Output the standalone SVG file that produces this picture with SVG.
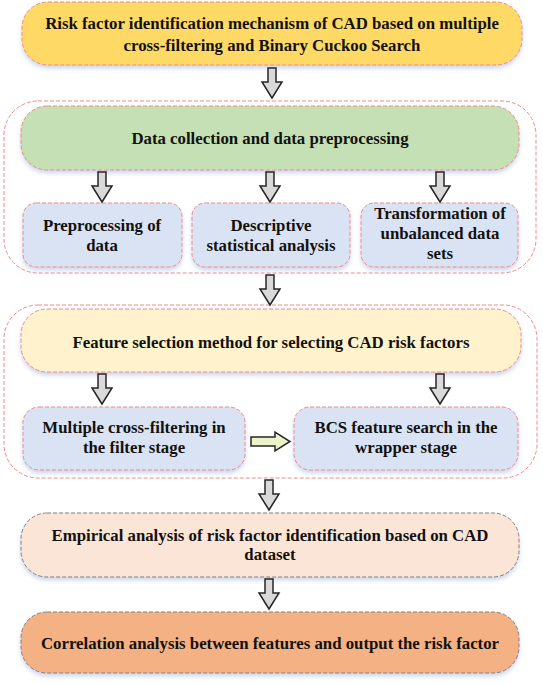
<svg xmlns="http://www.w3.org/2000/svg" width="543" height="685" viewBox="0 0 543 685">
<defs>
<filter id="sh" x="-10%" y="-20%" width="120%" height="150%">
<feDropShadow dx="0" dy="3" stdDeviation="2" flood-color="#8fa6d6" flood-opacity="0.45"/>
</filter>
<path id="dn" d="M-4,0 H4 V14 H10 L0,30 L-10,14 H-4 Z"/>
</defs>
<style>
text{font-family:"Liberation Serif","Times New Roman",serif;font-weight:bold;font-size:16.8px;fill:#111;text-anchor:middle}
.red{stroke:#f08a86;stroke-width:1;stroke-dasharray:4 2}
.grey{stroke:#808080;stroke-width:1;stroke-dasharray:4 2}
.cont{fill:none;stroke:#f08a86;stroke-width:1;stroke-dasharray:4 2}
.arr{fill:#d9d9d9;stroke:#262626;stroke-width:1.5;stroke-linejoin:miter}
</style>
<rect class="cont" x="4" y="101" width="532" height="172" rx="34"/>
<rect class="cont" x="4" y="305" width="533" height="173" rx="34"/>
<g id="n_top"><rect class="red" filter="url(#sh)" x="22" y="2" width="500" height="63" rx="26" fill="#ffd966"/>
<text x="272" y="29">Risk factor identification mechanism of CAD based on multiple</text>
<text x="272" y="51">cross-filtering and Binary Cuckoo Search</text></g>
<g id="n_data"><rect class="red" filter="url(#sh)" x="21" y="106" width="498" height="64" rx="26" fill="#c5e0b4"/>
<text x="270" y="144">Data collection and data preprocessing</text></g>
<g id="n_pre"><rect class="red" filter="url(#sh)" x="23" y="203" width="159" height="64" rx="13" fill="#dae3f3"/>
<text x="102" y="231">Preprocessing of</text><text x="102" y="251">data</text></g>
<g id="n_desc"><rect class="red" filter="url(#sh)" x="192" y="203" width="158" height="64" rx="13" fill="#dae3f3"/>
<text x="271" y="231">Descriptive</text><text x="271" y="251">statistical analysis</text></g>
<g id="n_trans"><rect class="red" filter="url(#sh)" x="361" y="203" width="157" height="64" rx="13" fill="#dae3f3"/>
<text x="440" y="219">Transformation of</text><text x="440" y="239">unbalanced data</text><text x="440" y="259">sets</text></g>
<g id="n_feat"><rect class="red" filter="url(#sh)" x="21" y="309" width="500" height="63" rx="26" fill="#fff2cc"/>
<text x="271" y="348">Feature selection method for selecting CAD risk factors</text></g>
<g id="n_multi"><rect class="red" filter="url(#sh)" x="23" y="407" width="222" height="63" rx="16" fill="#dae3f3"/>
<text x="134" y="433">Multiple cross-filtering in</text><text x="134" y="453">the filter stage</text></g>
<g id="n_bcs"><rect class="red" filter="url(#sh)" x="294" y="407" width="224" height="63" rx="16" fill="#dae3f3"/>
<text x="406" y="433">BCS feature search in the</text><text x="406" y="453">wrapper stage</text></g>
<g id="n_emp"><rect class="grey" filter="url(#sh)" x="21" y="513" width="498" height="64" rx="26" fill="#fbe5d6"/>
<text x="270" y="541">Empirical analysis of risk factor identification based on CAD</text><text x="270" y="560">dataset</text></g>
<g id="n_corr"><rect class="grey" filter="url(#sh)" x="21" y="612" width="498" height="61" rx="26" fill="#f4b183"/>
<text x="270" y="649">Correlation analysis between features and output the risk factor</text></g>
<g id="connectors">
<use href="#dn" class="arr" x="272" y="68"/>
<use href="#dn" class="arr" x="102" y="172"/>
<use href="#dn" class="arr" x="270" y="172"/>
<use href="#dn" class="arr" x="440" y="172"/>
<use href="#dn" class="arr" x="270" y="275"/>
<use href="#dn" class="arr" x="102" y="374"/>
<use href="#dn" class="arr" x="440" y="374"/>
<use href="#dn" class="arr" x="269" y="480"/>
<use href="#dn" class="arr" x="269" y="579"/>
<path class="arr" style="fill:#edf3c8" d="M251,437 H275 V432 L290,441.5 L275,451 V446 H251 Z"/>
</g>
</svg>
